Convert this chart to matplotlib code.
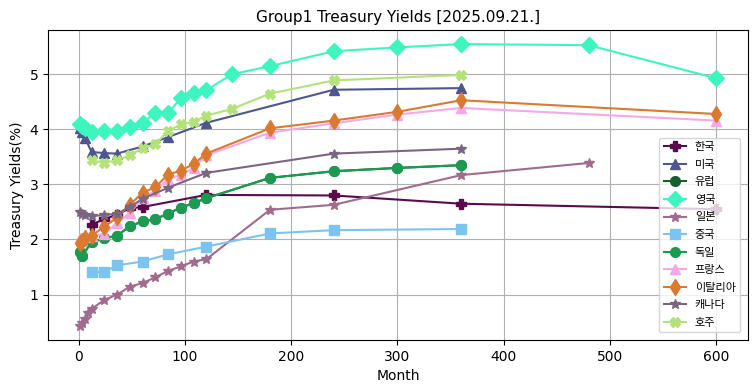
import matplotlib
matplotlib.use("Agg")
import matplotlib.pyplot as plt

plt.rcParams['font.family'] = ['DejaVu Sans', 'Noto Sans CJK KR']

names = ['한국', '미국', '유럽', '영국', '일본', '중국', '독일', '프랑스', '이탈리아', '캐나다', '호주']

kr_m = [12, 24, 36, 48, 60, 120, 240, 360, 600]
kr_y = [2.27, 2.37, 2.45, 2.57, 2.59, 2.81, 2.80, 2.65, 2.55]

us_m = [1, 3, 6, 12, 24, 36, 60, 84, 120, 240, 360]
us_y = [4.02, 3.96, 3.84, 3.59, 3.57, 3.56, 3.69, 3.86, 4.12, 4.72, 4.75]

de_m = [1, 3, 12, 24, 36, 48, 60, 72, 84, 96, 108, 120, 180, 240, 300, 360]
de_y = [1.78, 1.70, 1.95, 2.02, 2.07, 2.24, 2.33, 2.37, 2.47, 2.58, 2.66, 2.75, 3.12, 3.24, 3.30, 3.35]

eu_m = de_m
eu_y = de_y

uk_m = [1, 3, 6, 12, 24, 36, 48, 60, 72, 84, 96, 108, 120, 144, 180, 240, 300, 360, 480, 600]
uk_y = [4.10, 4.07, 4.02, 3.95, 3.97, 3.97, 4.05, 4.12, 4.30, 4.29, 4.57, 4.66, 4.71, 5.00, 5.15, 5.42, 5.49, 5.55, 5.53, 4.93]

jp_m = [1, 3, 6, 9, 12, 24, 36, 48, 60, 72, 84, 96, 108, 120, 180, 240, 360, 480]
jp_y = [0.43, 0.48, 0.56, 0.66, 0.74, 0.90, 1.00, 1.14, 1.21, 1.31, 1.43, 1.51, 1.60, 1.64, 2.54, 2.63, 3.17, 3.39]

cn_m = [12, 24, 36, 60, 84, 120, 180, 240, 360]
cn_y = [1.41, 1.41, 1.53, 1.60, 1.73, 1.87, 2.11, 2.17, 2.19]

fr_m = [1, 3, 6, 12, 24, 36, 48, 60, 72, 84, 96, 108, 120, 180, 240, 300, 360, 600]
fr_y = [2.02, 2.03, 2.05, 2.07, 2.10, 2.30, 2.48, 2.75, 2.88, 3.10, 3.17, 3.30, 3.53, 3.94, 4.11, 4.27, 4.39, 4.16]

it_m = [1, 3, 6, 12, 24, 36, 48, 60, 72, 84, 96, 108, 120, 180, 240, 300, 360, 600]
it_y = [1.93, 1.98, 2.02, 2.07, 2.23, 2.40, 2.63, 2.85, 2.95, 3.18, 3.25, 3.37, 3.56, 4.02, 4.16, 4.32, 4.53, 4.28]

ca_m = [1, 3, 6, 12, 24, 36, 48, 60, 84, 120, 240, 360]
ca_y = [2.50, 2.47, 2.44, 2.43, 2.44, 2.47, 2.59, 2.74, 2.94, 3.21, 3.56, 3.65]

au_m = [12, 24, 36, 48, 60, 72, 84, 96, 108, 120, 144, 180, 240, 360]
au_y = [3.44, 3.39, 3.44, 3.53, 3.66, 3.73, 3.97, 4.09, 4.14, 4.25, 4.37, 4.65, 4.89, 4.99]

series = [
    (kr_m, kr_y, 'P', '#5a0b4b', 7),
    (us_m, us_y, '^', '#4e5690', 7),
    (eu_m, eu_y, 'o', '#15602e', 7),
    (uk_m, uk_y, 'D', '#3ff5bf', 8),
    (jp_m, jp_y, '*', '#a06b8c', 7),
    (cn_m, cn_y, 's', '#7bc4f2', 7),
    (de_m, de_y, 'o', '#1c9a52', 7),
    (fr_m, fr_y, '^', '#f4a8e8', 7),
    (it_m, it_y, 'd', '#d97a30', 8),
    (ca_m, ca_y, '*', '#7a6682', 7),
    (au_m, au_y, 'X', '#b3e27a', 7),
]

fig, ax = plt.subplots(figsize=(7.55, 3.91), dpi=100)
fig.subplots_adjust(left=0.0636, right=0.9907, top=0.9233, bottom=0.1304)

for name, (m, y, mk, c, ms) in zip(names, series):
    ax.plot(m, y, marker=mk, color=c, markersize=ms, label=name)

ax.set_title("Group1 Treasury Yields [2025.09.21.]", fontsize=11)
ax.set_xlabel("Month")
ax.set_ylabel("Treasury Yields(%)")
ax.grid(True)
ax.legend(loc='lower right', fontsize=8, labelspacing=0.68, borderaxespad=0.7)

fig.savefig("out.png")
